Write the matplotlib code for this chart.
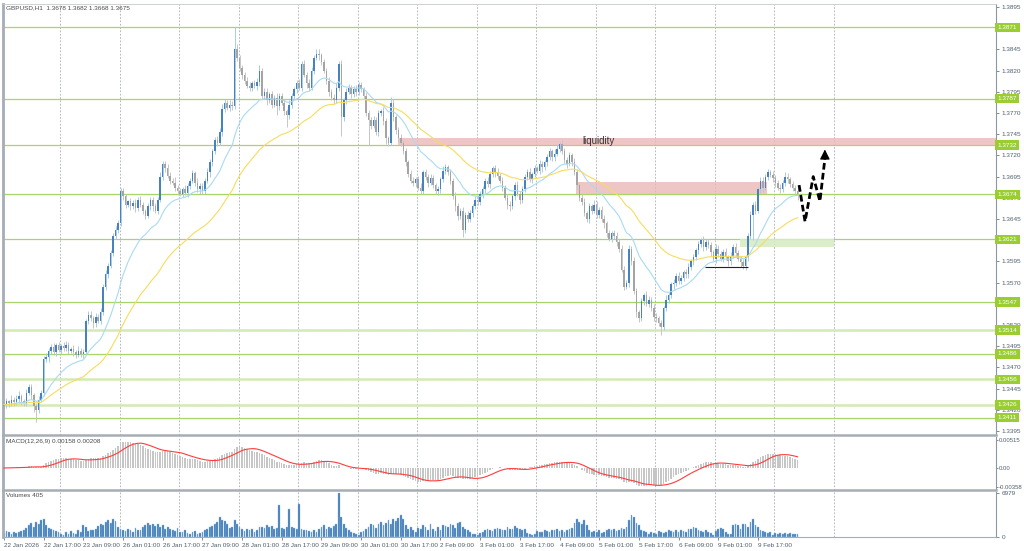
import numpy as np
import pandas as pd
import matplotlib
matplotlib.use('Agg')
import matplotlib.pyplot as plt
from matplotlib.transforms import blended_transform_factory

plt.rcParams['font.family'] = ['Liberation Sans', 'DejaVu Sans']

W, H = 1024, 551

# GBPUSD H1 closes (bar 0 = 22 Jan 2026)
first_open = 1.3424
closes = [
    1.3426, 1.3430, 1.3428, 1.3432, 1.3429, 1.3433, 1.3436, 1.3431, 1.3428, 1.3440, 1.3447, 1.3438, 1.3425, 1.3420, 1.3432, 1.3440,
    1.3480, 1.3482, 1.3490, 1.3494, 1.3488, 1.3496, 1.3491,
    1.3495, 1.3493, 1.3497, 1.3490, 1.3492, 1.3488, 1.3485, 1.3490, 1.3486,
    1.3488, 1.3525, 1.3532, 1.3528, 1.3522, 1.3530, 1.3525, 1.3535,
    1.3565, 1.3580, 1.3590, 1.3605, 1.3625, 1.3632, 1.3640, 1.3678,
    1.3672, 1.3662, 1.3666, 1.3660, 1.3664, 1.3658, 1.3668, 1.3662, 1.3655, 1.3649, 1.3660, 1.3668, 1.3660, 1.3655, 1.3668,
    1.3695, 1.3710, 1.3705, 1.3696, 1.3690, 1.3688, 1.3682, 1.3678, 1.3675,
    1.3680, 1.3676, 1.3684, 1.3690, 1.3699, 1.3688, 1.3680, 1.3684, 1.3678,
    1.3690, 1.3700, 1.3712, 1.3725, 1.3738, 1.3735, 1.3748, 1.3775, 1.3782, 1.3776, 1.3780, 1.3778,
    1.3846, 1.3835, 1.3823, 1.3815, 1.3808, 1.3802,
    1.3800, 1.3805, 1.3802, 1.3806, 1.3820, 1.3790,
    1.3795, 1.3785, 1.3792, 1.3780, 1.3788, 1.3778, 1.3790, 1.3782, 1.3772, 1.3768, 1.3780,
    1.3790, 1.3798, 1.3805, 1.3800, 1.3828, 1.3815, 1.3805, 1.3800,
    1.3820, 1.3835, 1.3840, 1.3838, 1.3830, 1.3820, 1.3808, 1.3795, 1.3788, 1.3785,
    1.3800, 1.3828, 1.3765,
    1.3785, 1.3795, 1.3800, 1.3792, 1.3798, 1.3795, 1.3803, 1.3798, 1.3790, 1.3770, 1.3762,
    1.3755, 1.3762, 1.3748, 1.3770, 1.3772, 1.3760, 1.3740, 1.3735, 1.3782, 1.3765, 1.3750, 1.3740, 1.3735,
    1.3725, 1.3712, 1.3698, 1.3690, 1.3688, 1.3692, 1.3682, 1.3678,
    1.3700, 1.3695, 1.3688, 1.3693, 1.3685, 1.3678, 1.3680,
    1.3692, 1.3702, 1.3706, 1.3700, 1.3690, 1.3672, 1.3660, 1.3648, 1.3655, 1.3632, 1.3650,
    1.3645, 1.3652, 1.3660, 1.3668, 1.3665, 1.3675,
    1.3680, 1.3690, 1.3686, 1.3698, 1.3705, 1.3700, 1.3696, 1.3690,
    1.3682, 1.3670, 1.3662, 1.3660, 1.3672, 1.3685, 1.3675, 1.3668,
    1.3680, 1.3695, 1.3700, 1.3692, 1.3698, 1.3705, 1.3702, 1.3710, 1.3706, 1.3712, 1.3718,
    1.3725, 1.3718, 1.3722, 1.3728, 1.3733, 1.3725, 1.3715, 1.3710, 1.3720, 1.3712, 1.3700,
    1.3685, 1.3670, 1.3665, 1.3652, 1.3645, 1.3660, 1.3655, 1.3662, 1.3650, 1.3656,
    1.3645, 1.3640, 1.3628, 1.3622, 1.3628, 1.3625, 1.3618, 1.3610,
    1.3585, 1.3565, 1.3570, 1.3610, 1.3595, 1.3560, 1.3535, 1.3528, 1.3548, 1.3555,
    1.3545, 1.3550, 1.3540, 1.3530, 1.3528, 1.3522, 1.3518, 1.3540,
    1.3550, 1.3555, 1.3568, 1.3570, 1.3578, 1.3572,
    1.3575, 1.3582, 1.3580, 1.3588, 1.3595, 1.3600, 1.3608,
    1.3615, 1.3620, 1.3612, 1.3618, 1.3614, 1.3606, 1.3598,
    1.3610, 1.3604, 1.3598, 1.3606, 1.3600, 1.3595, 1.3602, 1.3612, 1.3605, 1.3598, 1.3594,
    1.3590, 1.3600, 1.3625, 1.3650, 1.3662, 1.3655, 1.3680, 1.3690,
    1.3682, 1.3695, 1.3700, 1.3697, 1.3693,
    1.3688, 1.3682, 1.3680, 1.3688, 1.3695, 1.3692, 1.3686, 1.3682, 1.3678, 1.3675,
]

# wick lengths in pips above / below the candle body
wick_up = [
    3, 4, 2, 5, 3, 4, 6, 3, 2, 5, 4, 3, 2, 3, 4, 3, 4, 5, 3, 4,
    5, 3, 4, 3, 5, 4, 3, 2, 4, 3, 5, 3, 4, 2, 5, 4, 3, 4, 3, 5,
    4, 5, 3, 4, 3, 5, 4, 3, 4, 3, 2, 4, 3, 5, 3, 4, 3, 2, 4, 3,
    3, 4, 3, 5, 4, 3, 5, 4, 3, 6, 3, 4, 3, 5, 4, 3, 4, 3, 5, 3,
    4, 3, 5, 4, 3, 4, 5, 4, 6, 4, 3, 5, 4, 25, 5, 3, 4, 3, 4, 5,
    3, 4, 5, 6, 3, 4, 5, 3, 4, 3, 5, 4, 3, 4, 3, 5, 4, 3, 4, 5,
    3, 4, 3, 5, 4, 3, 5, 6, 3, 4, 3, 5, 3, 4, 5, 3, 4, 3, 5, 4,
    3, 4, 5, 3, 4, 3, 5, 4, 3, 5, 3, 4, 3, 5, 4, 3, 7, 4, 3, 4,
    5, 3, 4, 3, 5, 4, 3, 4, 5, 3, 4, 3, 5, 4, 3, 4, 3, 5, 4, 3,
    4, 3, 5, 4, 3, 4, 3, 5, 4, 3, 4, 5, 3, 4, 3, 5, 4, 3, 4, 5,
    3, 4, 3, 5, 4, 3, 4, 5, 3, 4, 3, 4, 5, 3, 4, 3, 5, 4, 3, 4,
    4, 3, 5, 4, 3, 5, 4, 3, 4, 3, 5, 4, 3, 4, 5, 3, 4, 3, 5, 4,
    3, 4, 5, 3, 4, 3, 4, 5, 3, 4, 5, 3, 4, 3, 5, 4, 3, 4, 3, 5,
    4, 3, 5, 4, 3, 4, 3, 5, 4, 3, 4, 3, 5, 4, 3, 4, 5, 3, 4, 3,
    4, 3, 5, 4, 3, 4, 3, 5, 4, 3, 4, 5, 3, 4, 3, 5, 4, 3, 4, 3,
    4, 5, 3, 4, 3, 4, 5, 3, 4, 3, 5, 4, 3, 4, 3, 5, 4, 3, 4, 3,
    4,
]
wick_dn = [
    3, 4, 5, 3, 4, 3, 4, 5, 3, 4, 3, 5, 8, 14, 4, 3, 4, 3, 5, 4,
    3, 4, 3, 5, 4, 3, 4, 3, 5, 4, 3, 4, 5, 3, 4, 3, 5, 4, 3, 4,
    3, 4, 5, 3, 4, 3, 4, 3, 5, 4, 3, 4, 3, 5, 4, 3, 4, 4, 3, 4,
    5, 3, 4, 3, 4, 5, 3, 4, 3, 4, 5, 3, 4, 3, 5, 4, 3, 4, 3, 5,
    3, 4, 3, 5, 4, 3, 4, 3, 5, 4, 3, 4, 5, 3, 4, 3, 5, 4, 3, 4,
    4, 3, 5, 4, 3, 4, 5, 3, 4, 3, 10, 4, 3, 4, 15, 5, 4, 3, 4, 3,
    4, 3, 5, 4, 3, 4, 3, 5, 4, 3, 4, 5, 3, 4, 3, 4, 22, 5, 4, 3,
    4, 3, 5, 4, 3, 4, 3, 30, 4, 3, 4, 5, 3, 4, 6, 4, 3, 4, 5, 3,
    4, 3, 5, 4, 3, 4, 5, 3, 4, 3, 4, 5, 3, 4, 3, 5, 4, 3, 4, 3,
    4, 3, 5, 4, 3, 8, 4, 3, 4, 5, 3, 4, 3, 5, 4, 3, 4, 3, 5, 4,
    3, 4, 3, 5, 6, 3, 4, 3, 5, 4, 3, 4, 3, 5, 4, 3, 4, 5, 3, 4,
    3, 4, 5, 3, 4, 3, 4, 5, 3, 4, 3, 5, 4, 3, 4, 3, 5, 4, 3, 4,
    4, 3, 5, 4, 3, 4, 3, 5, 4, 3, 4, 3, 5, 4, 3, 6, 4, 3, 4, 3,
    4, 3, 5, 4, 3, 10, 4, 3, 4, 3, 5, 4, 3, 4, 3, 5, 4, 3, 4, 3,
    4, 3, 5, 4, 3, 4, 3, 5, 4, 3, 4, 3, 5, 4, 3, 4, 3, 5, 4, 5,
    4, 3, 30, 4, 3, 4, 5, 3, 4, 3, 4, 5, 3, 4, 3, 4, 5, 3, 4, 3,
    7,
]

volumes = [
    600, 900, 700, 500, 800, 600, 700, 900, 1000,
    1400, 1800, 2200, 1600, 2400, 2000, 2600, 2800,
    1800, 1400, 1200, 1000, 900, 700,
    500, 300, 800, 400, 900, 600, 500, 1100, 700,
    1800, 1600, 900, 1000,
    1100, 1300, 1700, 2000, 1800, 2400, 2600, 2200, 2800, 2500,
    1500, 1300, 1100, 900, 1200, 1000, 800, 1400, 1100, 1000,
    1600, 1900, 2200, 1800, 2000, 1700, 2100, 1500, 1800, 1300, 1600,
    1200, 1000, 900, 1400, 800, 700, 1000,
    600, 500, 700, 900, 400, 600, 800,
    1100, 1300, 1500, 1700, 2000, 2300,
    3200, 2700, 2500, 2000, 1400, 1500,
    2600, 2000, 1500, 1200,
    900, 1200, 1000, 1300, 800, 1100, 1500,
    1600, 1400, 1800, 1500, 1700, 1300, 1400,
    5000, 1400, 1300, 1500, 4500, 1600, 1400, 1300, 5200,
    1200, 1100, 1000, 900, 800, 1000, 700,
    1300, 1600, 1800, 1200, 1500, 1400, 1700,
    2000, 6979, 3200, 2000, 1400,
    1000, 800, 600, 400, 300, 700, 900, 1200,
    1600, 2000, 1800, 1400, 2100, 2300, 1800,
    2200, 2600, 2000, 2800, 2500, 3000, 3500,
    2800, 1800, 1200, 1500, 1000,
    700, 1400, 1200, 1800, 1500, 1000, 2000, 1300, 900, 1600, 1100,
    1900, 1700, 1500, 2000, 1800, 1400, 2200, 2400, 1600, 1200,
    1000, 700, 500, 400, 300, 600,
    800, 1000, 1200, 1100, 900, 1300, 1400, 1200, 1100, 1000, 1500, 1300, 1200, 1700, 1400, 1200, 1000, 1300,
    600, 400, 300, 500,
    900, 800, 700, 1000, 900, 800, 1100, 1000, 1200, 900, 1000, 800, 1100, 1200, 1400,
    2200, 2900, 2400, 2000, 2600, 1800,
    1000, 800, 900, 700, 1100, 600, 800, 1000,
    1200, 1000, 1300, 900, 1100, 1400, 1200, 1600,
    2600, 3400, 3100, 2200, 1800,
    1000, 900, 700, 500, 800, 600, 400, 900, 700,
    600, 800, 1000, 900, 700, 1100, 800, 1000, 900, 700, 1200,
    1300, 1500, 1400, 1100, 900, 800, 1000, 700, 600,
    300, 900, 1300,
    1400, 1200, 700, 500, 400,
    1900, 2100, 1800, 1300, 2000,
    2100, 1500, 2300, 2800, 1900,
    1500, 1100, 900, 800, 600, 700,
    300, 600, 500, 600, 500, 600, 500, 600, 500, 400, 405,
]

assert len(closes) == len(wick_up) == len(wick_dn) == len(volumes) == 321

levels = [1.3871, 1.3787, 1.3732, 1.3674, 1.3621, 1.3547, 1.3514, 1.3486, 1.3456, 1.3426, 1.3411]
soft_levels = [1.3514, 1.3456, 1.3426]
# axis ticks every 25 pips; the ones hidden under a level label are left out
price_ticks = [1.3395, 1.3420, 1.3445, 1.3470, 1.3495, 1.3520, 1.3570, 1.3595,
               1.3645, 1.3670, 1.3695, 1.3720, 1.3745, 1.3770, 1.3795, 1.3820, 1.3845, 1.3895]
date_labels = ["22 Jan 2026", "22 Jan 17:00", "23 Jan 09:00", "26 Jan 01:00", "26 Jan 17:00",
               "27 Jan 09:00", "28 Jan 01:00", "28 Jan 17:00", "29 Jan 09:00", "30 Jan 01:00",
               "30 Jan 17:00", "2 Feb 09:00", "3 Feb 01:00", "3 Feb 17:00", "4 Feb 09:00",
               "5 Feb 01:00", "5 Feb 17:00", "6 Feb 09:00", "9 Feb 01:00", "9 Feb 17:00"]
label_step = 16

# drawn zones: (bar from, bar to, price low, price high)
liquidity_zone = (158.9, 400, 1.3732, 1.3740)
supply_zone = (230.6, 307.5, 1.3674, 1.3689)
demand_zone = (296.8, 334.7, 1.3612, 1.3621)
low_line = (282.7, 300.0, 1.3588)
path_bars = [320.6, 323.0, 326.3, 329.0, 331.0]
path_prices = [1.3685, 1.3642, 1.3695, 1.3666, 1.3716]
arrow_tip = 1.3727

# ---- derived series
s = pd.Series(closes)
opens = np.array([first_open] + closes[:-1])
c = np.array(closes)
highs = np.maximum(opens, c) + np.array(wick_up) * 0.0001
lows = np.minimum(opens, c) - np.array(wick_dn) * 0.0001
ma_fast = s.ewm(span=20, adjust=False).mean()
ma_slow = s.ewm(span=50, adjust=False).mean()
macd = s.ewm(span=12, adjust=False).mean() - s.ewm(span=26, adjust=False).mean()
signal = macd.rolling(9, min_periods=1).mean()
x = np.arange(len(closes))
bull = c >= opens


def px_rect(x0, y0, x1, y1):
    return [x0 / W, 1 - y1 / H, (x1 - x0) / W, (y1 - y0) / H]


fig = plt.figure(figsize=(W / 100, H / 100), dpi=100, facecolor='white')
ax = fig.add_axes(px_rect(3, 4, 996, 435))
axm = fig.add_axes(px_rect(3, 437, 996, 489.5))
axv = fig.add_axes(px_rect(3, 492, 996, 537))

xmin, xmax = -0.4, 400.0
tick_col = '#4f5e6d'
frame_col = '#a6adb4'
fs = 4.6
for a in (ax, axm, axv):
    a.set_xlim(xmin, xmax)
    a.set_facecolor('white')
    for gx in np.arange(22.6, 340, 24):
        a.axvline(gx, color='#a3acb5', lw=0.6, ls=(0, (2, 2)), zorder=0.5)
    a.yaxis.tick_right()
    a.tick_params(axis='y', labelsize=fs, colors=tick_col, length=2.5, width=0.5, pad=1.5)
    a.spines['left'].set_color(frame_col)
    a.spines['left'].set_linewidth(2)
    a.spines['right'].set_color('#8d97a1')
    a.spines['right'].set_linewidth(0.8)
    a.spines['top'].set_visible(False)
    a.spines['bottom'].set_color(frame_col)
    a.spines['bottom'].set_linewidth(1.8)
ax.spines['top'].set_visible(True)
ax.spines['top'].set_color('#c4cad0')
ax.spines['top'].set_linewidth(0.6)
axv.spines['bottom'].set_linewidth(0.8)

# ---- main price panel
ax.set_ylim(1.33904, 1.38985)
ax.set_yticks(price_ticks)
ax.set_yticklabels([f'{p:.4f}' for p in price_ticks])
ax.set_xticks([])

for lv in levels:
    if lv in soft_levels:
        ax.axhline(lv, color='#d3eab5', lw=1.8, zorder=1)
    else:
        ax.axhline(lv, color='#a9d46a', lw=0.9, zorder=1)

ax.fill_between([liquidity_zone[0], liquidity_zone[1]], liquidity_zone[2], liquidity_zone[3],
                color='#eab8b8', alpha=0.8, lw=0, zorder=1.5)
ax.fill_between([supply_zone[0], supply_zone[1]], supply_zone[2], supply_zone[3],
                color='#eab8b8', alpha=0.8, lw=0, zorder=1.5)
ax.fill_between([demand_zone[0], demand_zone[1]], demand_zone[2], demand_zone[3],
                color='#d7ebc3', alpha=0.9, lw=0, zorder=1.5)
ax.hlines(low_line[2], low_line[0], low_line[1], color='#222222', lw=0.8, zorder=4)

wick_cols = np.where(bull, '#a9cbe8', '#c6c6c6')
body_cols = np.where(bull, '#4682bf', '#a4a4a4')
ax.vlines(x, lows, highs, colors=wick_cols, lw=0.7, zorder=2)
body_h = np.maximum(np.abs(c - opens), 0.00004)
ax.bar(x, body_h, bottom=np.minimum(opens, c), width=0.62, color=body_cols, lw=0, zorder=3)

ax.plot(x, ma_fast, color='#a9daf2', lw=0.8, zorder=3.5)
ax.plot(x, ma_slow, color='#f7dc5e', lw=0.8, zorder=3.5)

ax.text(239.9, 1.37365, 'liquidity', fontsize=7, color='#333333', ha='center', va='center', zorder=5)

ax.plot(path_bars, path_prices, color='black', lw=2.0, ls=(0, (2.4, 1.2)), zorder=6,
        solid_capstyle='butt')
ax.annotate('', xy=(path_bars[-1], arrow_tip), xytext=(path_bars[-1], path_prices[-1]),
            arrowprops=dict(arrowstyle='-|>,head_width=0.3,head_length=0.6', color='black',
                            lw=0.8, shrinkA=0, shrinkB=0), zorder=6)

trans = blended_transform_factory(ax.transAxes, ax.transData)
for lv in levels:
    ax.text(1.0018, lv, f'{lv:.4f}', transform=trans, fontsize=fs, color='white',
            ha='left', va='center', clip_on=False, zorder=10,
            bbox=dict(boxstyle='square,pad=0.36', fc='#9acd32', ec='none'))

# ---- MACD panel
axm.bar(x, macd, width=0.6, color='#c6c6c6', lw=0, zorder=2)
axm.plot(x, signal, color='#ff3c3c', lw=0.8, zorder=3)
axm.set_ylim(-0.00396, 0.00571)
axm.set_yticks([0.00515, 0.0, -0.00358])
axm.set_yticklabels(['0.00515', '0.00', '-0.00358'])
axm.tick_params(axis='y', labelsize=4.3, length=1.5, pad=0.6)
axm.set_xticks([])

# ---- volume panel
axv.bar(x, volumes, width=0.72, color='#3b79b6', edgecolor='#9cc0e0', lw=0.3, zorder=2)
axv.set_ylim(-60, 7150)
axv.set_yticks([6979, 0])
axv.set_yticklabels(['6979', '0'])
axv.set_xticks(np.arange(0, len(date_labels) * label_step, label_step))
axv.set_xticklabels(date_labels, ha='left')
axv.tick_params(axis='x', labelsize=fs, colors=tick_col, length=2, width=0.5, pad=2)

txt_col = '#4a4a4a'
fig.text(6 / W, 1 - 7.5 / H, 'GBPUSD,H1  1.3678 1.3682 1.3668 1.3675', fontsize=fs,
         color=txt_col, va='center', ha='left')
fig.text(6 / W, 1 - 442 / H, 'MACD(12,26,9) 0.00158 0.00208', fontsize=fs,
         color=txt_col, va='center', ha='left')
fig.text(6 / W, 1 - 495.5 / H, 'Volumes 405', fontsize=fs,
         color=txt_col, va='center', ha='left')

fig.savefig('out.png', dpi=100, facecolor='white')
